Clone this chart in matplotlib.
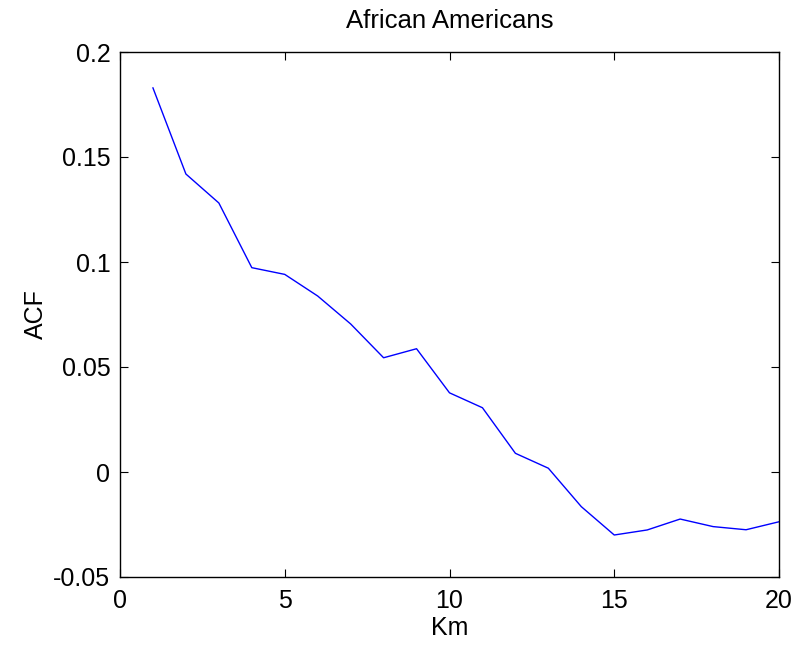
import matplotlib
matplotlib.use("Agg")
import matplotlib.pyplot as plt

plt.rcParams.update({
    "font.family": ["Liberation Sans", "DejaVu Sans"],
    "font.size": 18,
    "xtick.direction": "in",
    "ytick.direction": "in",
    "xtick.top": True,
    "ytick.right": True,
    "axes.linewidth": 1.0,
})

km = list(range(1, 21))
acf = [0.1829, 0.1419, 0.1281, 0.0973, 0.0941, 0.0838, 0.0705, 0.0544,
       0.0587, 0.0377, 0.0306, 0.0089, 0.0018, -0.0165, -0.0300, -0.0276,
       -0.0224, -0.0260, -0.0275, -0.0237]

fig = plt.figure(figsize=(8.1, 6.52), dpi=100)
ax = fig.add_axes([120 / 810, 75 / 652, 659 / 810, 525 / 652])

ax.plot(km, acf, color="#0000ff", linewidth=1.0)

ax.set_xlim(0, 20)
ax.set_ylim(-0.05, 0.2)
ax.set_xticks([0, 5, 10, 15, 20])
ax.set_yticks([-0.05, 0, 0.05, 0.1, 0.15, 0.2])
ax.set_yticklabels(["-0.05", "0", "0.05", "0.1", "0.15", "0.2"])
ax.tick_params(axis="y", length=6, width=0.8, pad=7)
ax.tick_params(axis="x", length=6, width=0.8, pad=9)

ax.set_xlabel("Km", labelpad=2)
ax.set_ylabel("ACF", labelpad=4)
ax.set_title("African Americans", fontsize=18.5, pad=17)

fig.savefig("out.png", dpi=100)
